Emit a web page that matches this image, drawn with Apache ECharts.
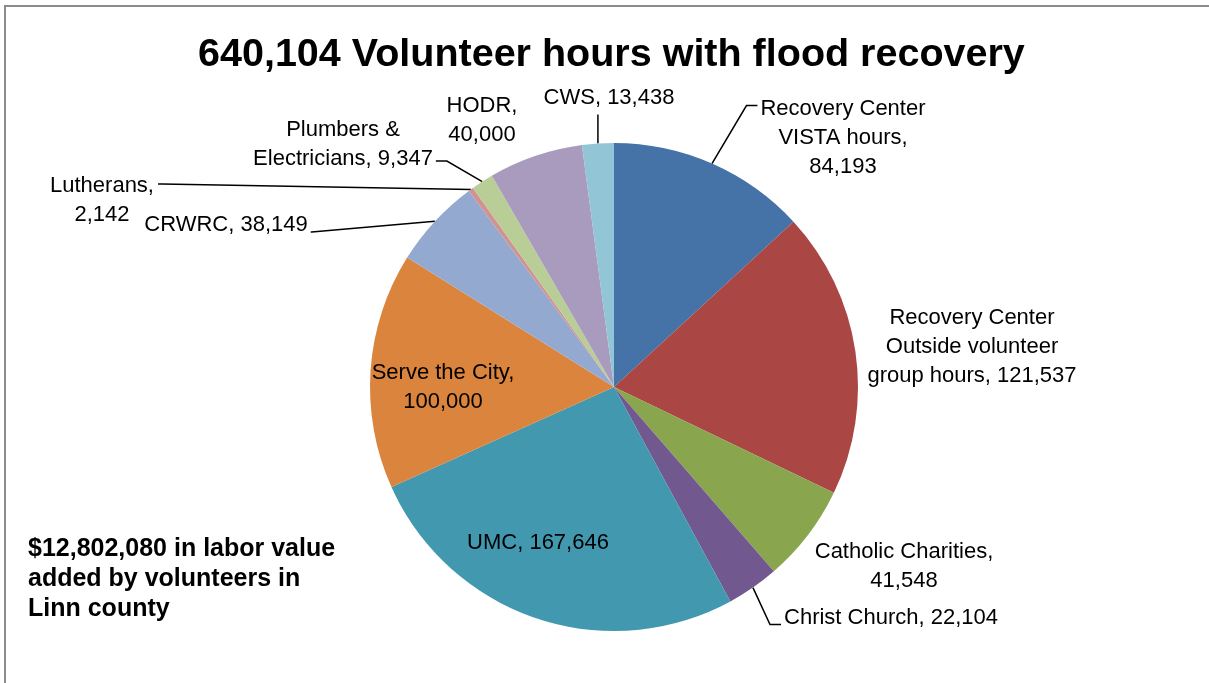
<!DOCTYPE html>
<html>
<head>
<meta charset="utf-8">
<script src="https://cdn.jsdelivr.net/npm/echarts@6/dist/echarts.min.js"></script>
<style>html,body{margin:0;padding:0;background:#fff}#c{width:1209px;height:683px}</style>
</head>
<body>
<div id="c"></div>
<script>
const categories = ["Recovery Center\nVISTA hours", "Recovery Center\nOutside volunteer\ngroup hours", "Catholic Charities", "Christ Church", "UMC", "Serve the City", "CRWRC", "Lutherans", "Plumbers &\nElectricians", "HODR", "CWS"];
const values = [84193, 121537, 41548, 22104, 167646, 100000, 38149, 2142, 9347, 40000, 13438];
const colors = ["#4572A7", "#AA4643", "#89A54E", "#71588F", "#4198AF", "#DB843D", "#93A9CF", "#D19392", "#B9CD96", "#A99BBD", "#92C5D6"];
const titleText = "640,104 Volunteer hours with flood recovery";
const noteText = "$12,802,080 in labor value\nadded by volunteers in\nLinn county";

// label layout (centre of each label block), leader-line style
const labelPos = [[843,138],[972,347],[904,566],[891,618],[538,543],[443,387],[226,225],[102,200],[343,144],[482,120],[609,98]];
const showLine = [true,false,false,true,false,false,true,true,true,false,true];
const sepAfterName = [",\n", ", ", ",\n", ", ", ", ", ",\n", ", ", ",\n", ", ", ",\n", ", "];
// how the leader line meets the label
const lineAttach = ['leftTop',null,null,'leftBottom',null,null,'right','rightTop','rightBottom',null,'bottom'];

const fmt = v => v.toLocaleString('en-US');
const data = categories.map((c,i)=>({
  name: c, value: values[i],
  itemStyle:{color: colors[i]},
  label:{formatter: c + sepAfterName[i] + fmt(values[i])},
  labelLine:{show: showLine[i]}
}));

const chart = echarts.init(document.getElementById('c'));
chart.setOption({
  animation:false,
  title:{text:titleText,left:193,top:30,textStyle:{fontFamily:'Liberation Sans',fontSize:39.5,fontWeight:'bold',color:'#000'}},
  graphic:[
    {type:'rect',shape:{x:5,y:6,width:1400,height:900},style:{fill:'none',stroke:'#8c8c8c',lineWidth:2}},
    {type:'text',left:28,top:534,style:{text:noteText,font:'bold 25px "Liberation Sans"',lineHeight:30,fill:'#000'}}
  ],
  series:[{
    type:'pie',
    center:[614,387],
    radius:244,
    startAngle:90,
    clockwise:true,
    data:data,
    itemStyle:{borderWidth:0},
    label:{show:true,position:'outside',fontFamily:'Liberation Sans',fontSize:22,lineHeight:29,color:'#000',align:'center'},
    labelLine:{show:true,length:10,length2:10,lineStyle:{color:'#000',width:1.5}},
    labelLayout:function(p){
      const i = p.dataIndex;
      const pos = labelPos[i];
      const out = {x:pos[0],y:pos[1],align:'center',verticalAlign:'middle'};
      const a = lineAttach[i];
      if (a && p.labelLinePoints) {
        const s = p.labelLinePoints[0];
        const w = p.labelRect.width, h = p.labelRect.height;
        const L = pos[0]-w/2, R = pos[0]+w/2, T = pos[1]-h/2, B = pos[1]+h/2;
        let pts;
        if (a==='leftTop') { const y=T+13; pts=[s,[L-14,y-2],[L-3,y-2]]; }
        else if (a==='leftBottom') { const y=B-8; pts=[s,[L-14,y],[L-3,y]]; }
        else if (a==='rightTop') { const y=T+13; pts=[s,[R+8,y],[R+4,y]]; }
        else if (a==='rightBottom') { const y=B-12; pts=[s,[R+14,y],[R+3,y]]; }
        else if (a==='right') { const y=pos[1]+7; pts=[s,[R+4,y],[R+3,y]]; }
        else if (a==='bottom') { pts=[s,[s[0],B+3],[s[0],B+2]]; }
        out.labelLinePoints = pts;
      }
      return out;
    }
  }]
});
</script>
</body>
</html>
